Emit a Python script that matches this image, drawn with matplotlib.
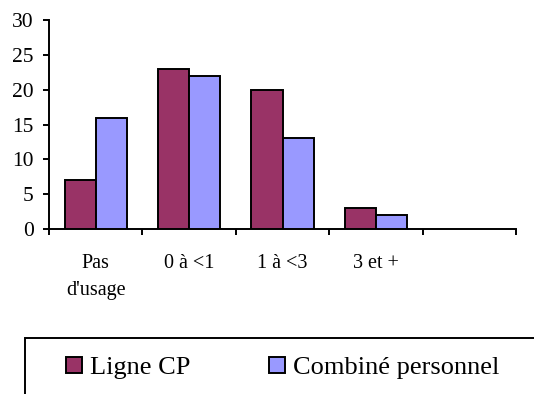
import matplotlib
matplotlib.use("Agg")
import matplotlib.pyplot as plt
import numpy as np
from matplotlib.patches import Patch, Rectangle

plt.rcParams['font.family'] = ['Liberation Serif', 'DejaVu Serif']

categories = ["Pas\nd'usage", "0 à <1", "1 à <3", "3 et +", ""]
ligne_cp = [7, 23, 20, 3]
combine_perso = [16, 22, 13, 2]
series_names = ["Ligne CP", "Combiné personnel"]
y_ticks = [0, 5, 10, 15, 20, 25, 30]

col_cp = "#993366"
col_perso = "#9999FF"

W, H = 534, 394
fig = plt.figure(figsize=(W / 100, H / 100), dpi=100)
ax = fig.add_axes([49 / W, 1 - 229 / H, (516 - 49) / W, (229 - 20) / H])

lw = 1.4
bw = 1 / 3
x = np.arange(len(ligne_cp))
ax.bar(x - bw / 2, ligne_cp, bw, color=col_cp, edgecolor="black", linewidth=lw, zorder=3)
ax.bar(x + bw / 2, combine_perso, bw, color=col_perso, edgecolor="black", linewidth=lw, zorder=3)

ax.set_xlim(-0.5, len(categories) - 0.5)
ax.set_ylim(0, 30)
ax.set_yticks(y_ticks)
ax.tick_params(axis="y", direction="out", length=4, width=lw, pad=7, labelsize=15.5)

# boundaries get the tick marks, centres get the labels
ax.set_xticks(np.arange(len(categories) + 1) - 0.5)
ax.set_xticklabels([])
ax.set_xticks(np.arange(len(categories)), minor=True)
ax.set_xticklabels(categories, minor=True, fontsize=14.5, linespacing=1.6)
ax.tick_params(axis="x", which="major", direction="out", length=4, width=lw)
ax.tick_params(axis="x", which="minor", length=0, pad=18)

for s in ["top", "right"]:
    ax.spines[s].set_visible(False)
for s in ["left", "bottom"]:
    ax.spines[s].set_linewidth(lw)

# legend box running off the bottom-right corner
fig.patches.append(Rectangle((25 / W, -0.2), 1.0, 0.2 + (394 - 338) / H,
                             transform=fig.transFigure, fill=False,
                             edgecolor="black", linewidth=lw))
handles = [Patch(facecolor=col_cp, edgecolor="black", linewidth=lw),
           Patch(facecolor=col_perso, edgecolor="black", linewidth=lw)]
fig.legend(handles, series_names, loc="center left",
           bbox_to_anchor=(66 / W, 1 - 368 / H), frameon=False, ncol=2,
           fontsize=19, handlelength=0.6, handleheight=0.6,
           handletextpad=0.3, columnspacing=3.0, borderpad=0, borderaxespad=0)

fig.savefig("out.png", dpi=100)
